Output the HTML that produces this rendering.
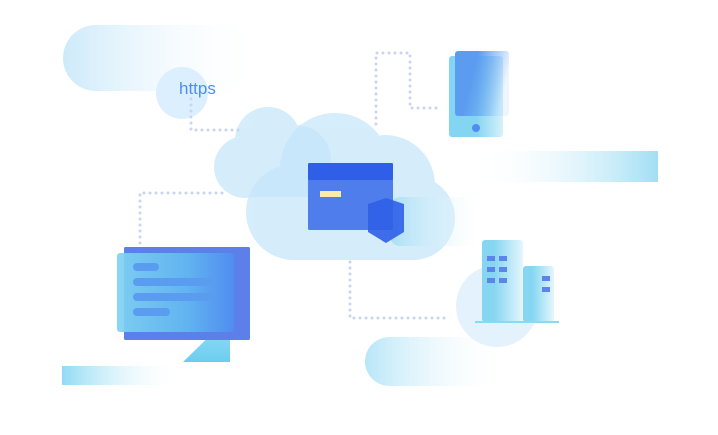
<!DOCTYPE html>
<html><head><meta charset="utf-8"><style>
html,body{margin:0;padding:0;background:#fff;width:718px;height:435px;overflow:hidden}
</style></head><body>
<svg width="718" height="435" viewBox="0 0 718 435" xmlns="http://www.w3.org/2000/svg">
<defs>
<linearGradient id="pillL" x1="0" x2="1" y1="0" y2="0"><stop offset="0" stop-color="#cdeafa"/><stop offset="1" stop-color="#fff" stop-opacity="0"/></linearGradient>
<linearGradient id="pillR" x1="0" x2="1"><stop offset="0" stop-color="#fff" stop-opacity="0"/><stop offset="1" stop-color="#a2def4"/></linearGradient>
<linearGradient id="barC" x1="0" x2="1"><stop offset="0" stop-color="#90dbf4"/><stop offset="1" stop-color="#fff" stop-opacity="0"/></linearGradient>
<linearGradient id="pillB" x1="0" x2="1"><stop offset="0" stop-color="#b8e6f8"/><stop offset="1" stop-color="#fff" stop-opacity="0"/></linearGradient>
<linearGradient id="phone" x1="0" y1="0" x2="1" y2="0.3"><stop offset="0.4" stop-color="#5c9cf0"/><stop offset="1" stop-color="#5c9cf0" stop-opacity="0.1"/></linearGradient>
<linearGradient id="phoneB" x1="0" x2="1"><stop offset="0.5" stop-color="#84d5f2"/><stop offset="1" stop-color="#d7f1fb"/></linearGradient>
<linearGradient id="mon" x1="0" x2="1"><stop offset="0" stop-color="#7fd3f2"/><stop offset="0.6" stop-color="#62b8f0"/><stop offset="1" stop-color="#4f8ef0"/></linearGradient>
<linearGradient id="bld" x1="0" x2="1"><stop offset="0.3" stop-color="#86d6f2"/><stop offset="1" stop-color="#e6f6fd"/></linearGradient>
<linearGradient id="cg" x1="0" x2="1"><stop offset="0" stop-color="#a9dff6"/><stop offset="1" stop-color="#fff" stop-opacity="0"/></linearGradient>
<linearGradient id="stand" x1="0" y1="0" x2="0" y2="1"><stop offset="0" stop-color="#9ae0f6"/><stop offset="1" stop-color="#6dcdf0"/></linearGradient>
</defs>
<!-- background pills -->
<rect x="63" y="25" width="200" height="66" rx="33" fill="url(#pillL)"/>
<rect x="475" y="151" width="183" height="31" fill="url(#pillR)"/>
<rect x="62" y="366" width="120" height="19" fill="url(#barC)"/>
<rect x="365" y="337" width="140" height="49" rx="24.5" fill="url(#pillB)"/>
<circle cx="182" cy="93" r="26" fill="#dcefff"/>
<text x="179" y="94" font-family="Liberation Sans, sans-serif" font-size="17" fill="#4f8ef0">https</text>
<!-- dotted lines -->
<g stroke="#c9d5f3" stroke-width="3" stroke-linecap="round" stroke-dasharray="0 6" fill="none">
<path d="M191 99 V130 H242"/>
<path d="M376 124 V53 H410 V108 H440"/>
<path d="M222 193 H140 V246"/>
<path d="M350 262 V318 H447"/>
</g>
<!-- clouds -->
<g fill="#b4dff8" opacity="0.55">
<circle cx="268" cy="140" r="33"/><circle cx="245" cy="167" r="31"/><circle cx="296" cy="160" r="35"/><rect x="245" y="160" width="80" height="37"/>
</g>
<g fill="#c4e5fa" opacity="0.7">
<circle cx="335" cy="168" r="55"/><circle cx="385" cy="185" r="50"/><circle cx="294" cy="212" r="48"/><circle cx="413" cy="218" r="42"/><rect x="294" y="200" width="120" height="60"/>
</g>
<rect x="390" y="197" width="95" height="49" rx="10" fill="url(#cg)"/>
<!-- card -->
<rect x="308" y="163" width="85" height="67" rx="1.5" fill="#4f7eec"/>
<rect x="308" y="163" width="85" height="17" rx="1.5" fill="#2f5fe8"/>
<rect x="320" y="191" width="21" height="6" fill="#fdeba4"/>
<path d="M368 204 L386 198 L404 204 V232 L386 243 L368 232 Z" fill="#2f5fe8" opacity="0.9"/>
<!-- phone -->
<rect x="449" y="56" width="54" height="81" rx="3" fill="url(#phoneB)"/>
<rect x="455" y="51" width="54" height="65" rx="3" fill="url(#phone)"/>
<circle cx="476" cy="128" r="4" fill="#4f8ef0"/>
<!-- monitor -->
<path d="M183 362 L230 316 V362 Z" fill="url(#stand)"/>
<rect x="124" y="247" width="126" height="93" rx="1.5" fill="#5c7fea"/>
<rect x="117" y="253" width="117" height="79" rx="3" fill="url(#mon)" opacity="0.92"/>
<g fill="#5a9cf0">
<rect x="133" y="263" width="26" height="8" rx="4"/><rect x="133" y="278" width="79" height="8" rx="4"/><rect x="133" y="293" width="79" height="8" rx="4"/><rect x="133" y="308" width="37" height="8" rx="4"/>
</g>
<!-- buildings -->
<circle cx="497" cy="306" r="41" fill="#e3f2fc"/>
<rect x="482" y="240" width="41" height="82" rx="3" fill="url(#bld)"/>
<rect x="523" y="266" width="31" height="56" rx="3" fill="url(#bld)"/>
<rect x="475" y="321" width="84" height="2" fill="#8ad8f3"/>
<g fill="#5b85ea">
<rect x="487" y="256" width="8" height="5"/><rect x="499" y="256" width="8" height="5"/>
<rect x="487" y="267" width="8" height="5"/><rect x="499" y="267" width="8" height="5"/>
<rect x="487" y="278" width="8" height="5"/><rect x="499" y="278" width="8" height="5"/>
<rect x="542" y="276" width="8" height="5"/><rect x="542" y="287" width="8" height="5"/>
</g>
</svg>
</body></html>
